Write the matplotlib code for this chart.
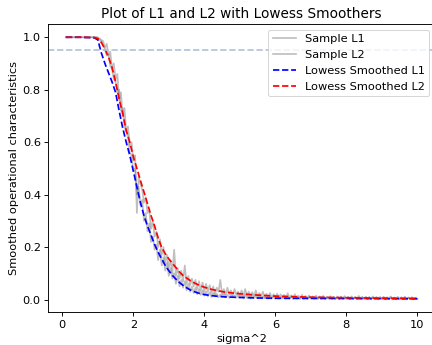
import numpy as np
import matplotlib
matplotlib.use("Agg")
import matplotlib.pyplot as plt

# sample grid (sigma^2), step 0.05
x_sample = np.round(np.arange(0.1, 10.0001, 0.05), 2)

sample_l1 = (
    [1.0] * 18
    + [0.995, 0.99, 0.985, 0.97, 0.955, 0.93, 0.935, 0.89, 0.88, 0.84,
       0.83, 0.79, 0.80, 0.72, 0.73, 0.66, 0.64, 0.62, 0.56, 0.55,
       0.49, 0.50, 0.40, 0.43, 0.36, 0.38, 0.30, 0.33, 0.26, 0.29,
       0.22, 0.24, 0.19, 0.21, 0.15, 0.19, 0.13, 0.16, 0.11, 0.14,
       0.09, 0.12, 0.08, 0.10, 0.06, 0.09, 0.05, 0.075, 0.045, 0.07,
       0.035, 0.06, 0.03, 0.05, 0.025, 0.045, 0.02, 0.04, 0.018, 0.035,
       0.015]
    + [0.03, 0.012, 0.028, 0.01, 0.025, 0.012, 0.022, 0.008, 0.02, 0.01,
       0.024, 0.008, 0.018, 0.006, 0.02, 0.009, 0.016, 0.006, 0.018, 0.007]
    + [0.015, 0.005, 0.018, 0.006, 0.014, 0.004, 0.016, 0.005, 0.012, 0.004,
       0.015, 0.005, 0.011, 0.004, 0.013, 0.003, 0.012, 0.004, 0.01, 0.003]
    + [0.012, 0.003, 0.01, 0.004, 0.011, 0.003, 0.009, 0.003, 0.012, 0.002,
       0.01, 0.003, 0.009, 0.002, 0.011, 0.003, 0.008, 0.002, 0.01, 0.003]
    + [0.009, 0.002, 0.01, 0.003, 0.008, 0.002, 0.011, 0.002, 0.009, 0.003,
       0.008, 0.002, 0.01, 0.002, 0.007, 0.002, 0.009, 0.003, 0.008, 0.002]
    + [0.009, 0.002, 0.007, 0.002, 0.01, 0.002, 0.008, 0.001, 0.009, 0.002,
       0.007, 0.002, 0.009, 0.001, 0.008, 0.002, 0.007, 0.001, 0.009, 0.002]
    + [0.008, 0.001, 0.007, 0.002, 0.009, 0.001, 0.007, 0.002, 0.008, 0.001,
       0.006, 0.002, 0.008, 0.001, 0.007, 0.002, 0.006, 0.001, 0.007, 0.002]
)

sample_l2 = (
    [1.0] * 18
    + [1.0, 0.995, 0.99, 0.985, 0.96, 0.975, 0.93, 0.945, 0.88, 0.90,
       0.84, 0.86, 0.76, 0.79, 0.70, 0.73, 0.64, 0.66, 0.59, 0.60,
       0.53, 0.55, 0.33, 0.47, 0.44, 0.42, 0.37, 0.39, 0.33, 0.34,
       0.27, 0.30, 0.24, 0.26, 0.20, 0.23, 0.17, 0.20, 0.14, 0.17,
       0.12, 0.15, 0.10, 0.19, 0.09, 0.12, 0.08, 0.11, 0.07, 0.13,
       0.06, 0.09, 0.055, 0.08, 0.05, 0.075, 0.04, 0.07, 0.035, 0.065,
       0.03]
    + [0.06, 0.03, 0.055, 0.025, 0.05, 0.02, 0.045, 0.03, 0.075, 0.02,
       0.04, 0.018, 0.045, 0.02, 0.035, 0.015, 0.04, 0.018, 0.03, 0.015]
    + [0.035, 0.012, 0.04, 0.015, 0.03, 0.01, 0.028, 0.012, 0.035, 0.01,
       0.025, 0.012, 0.03, 0.008, 0.022, 0.01, 0.025, 0.008, 0.02, 0.01]
    + [0.022, 0.007, 0.02, 0.008, 0.018, 0.006, 0.024, 0.008, 0.016, 0.006,
       0.02, 0.007, 0.015, 0.006, 0.018, 0.005, 0.014, 0.006, 0.016, 0.005]
    + [0.012, 0.005, 0.015, 0.004, 0.012, 0.006, 0.014, 0.004, 0.011, 0.005,
       0.013, 0.004, 0.01, 0.005, 0.012, 0.003, 0.011, 0.004, 0.013, 0.004]
    + [0.01, 0.003, 0.012, 0.004, 0.009, 0.003, 0.014, 0.004, 0.01, 0.003,
       0.011, 0.004, 0.009, 0.003, 0.012, 0.003, 0.01, 0.004, 0.009, 0.003]
    + [0.011, 0.003, 0.009, 0.002, 0.012, 0.003, 0.008, 0.002, 0.01, 0.003,
       0.009, 0.002, 0.011, 0.003, 0.008, 0.002, 0.009, 0.003, 0.007, 0.003]
)

# lowess fits
x_smooth = [0.1, 0.5, 0.9, 1.0, 1.1, 1.2, 1.3, 1.4, 1.5, 1.6, 1.7, 1.8, 1.9,
            2.0, 2.1, 2.2, 2.3, 2.4, 2.5, 2.6, 2.7, 2.8, 2.9, 3.0, 3.1, 3.2,
            3.3, 3.4, 3.5, 3.6, 3.7, 3.8, 3.9, 4.0, 4.2, 4.4, 4.6, 4.8, 5.0,
            5.5, 6.0, 7.0, 8.0, 9.0, 10.0]
lowess_l1 = [1.0, 1.0, 0.998, 0.99, 0.94, 0.90, 0.865, 0.83, 0.79, 0.72,
             0.655, 0.60, 0.55, 0.49, 0.43, 0.37, 0.32, 0.28, 0.245, 0.21,
             0.18, 0.155, 0.13, 0.11, 0.092, 0.078, 0.065, 0.054, 0.045,
             0.037, 0.031, 0.026, 0.022, 0.019, 0.015, 0.012, 0.010, 0.009,
             0.008, 0.006, 0.005, 0.0045, 0.004, 0.0035, 0.003]
lowess_l2 = [1.0, 1.0, 0.999, 0.995, 0.98, 0.955, 0.925, 0.885, 0.83, 0.765,
             0.71, 0.645, 0.60, 0.545, 0.50, 0.454, 0.41, 0.365, 0.32, 0.28,
             0.235, 0.198, 0.175, 0.155, 0.138, 0.122, 0.105, 0.092, 0.082,
             0.073, 0.065, 0.058, 0.052, 0.047, 0.039, 0.033, 0.028, 0.025,
             0.022, 0.017, 0.013, 0.009, 0.007, 0.005, 0.004]

# reference looks like a default figure scaled up ~1.14
scale = 1.14
plt.rcParams.update({
    "font.size": 10 * scale,
    "lines.linewidth": 1.5 * scale,
    "axes.linewidth": 0.8 * scale,
    "xtick.major.size": 3.5 * scale,
    "ytick.major.size": 3.5 * scale,
    "xtick.major.width": 0.8 * scale,
    "ytick.major.width": 0.8 * scale,
})

fig = plt.figure(figsize=(6.0, 345 / 72), dpi=72)
fig.subplots_adjust(left=0.1118, right=1.0067, top=0.930, bottom=0.0945)
ax = fig.add_subplot(111)

ax.plot(x_sample, sample_l1, color="gray", alpha=0.5, label="Sample L1")
ax.plot(x_sample, sample_l2, color="gray", alpha=0.5, label="Sample L2")
ax.plot(x_smooth, lowess_l1, "b--", label="Lowess Smoothed L1")
ax.plot(x_smooth, lowess_l2, "r--", label="Lowess Smoothed L2")
ax.axhline(0.95, color="lightsteelblue", linestyle="--")

ax.set_title("Plot of L1 and L2 with Lowess Smoothers")
ax.set_xlabel("sigma^2")
ax.set_ylabel("Smoothed operational characteristics")
ax.legend(loc="upper right")

fig.savefig("out.png", dpi=72)
